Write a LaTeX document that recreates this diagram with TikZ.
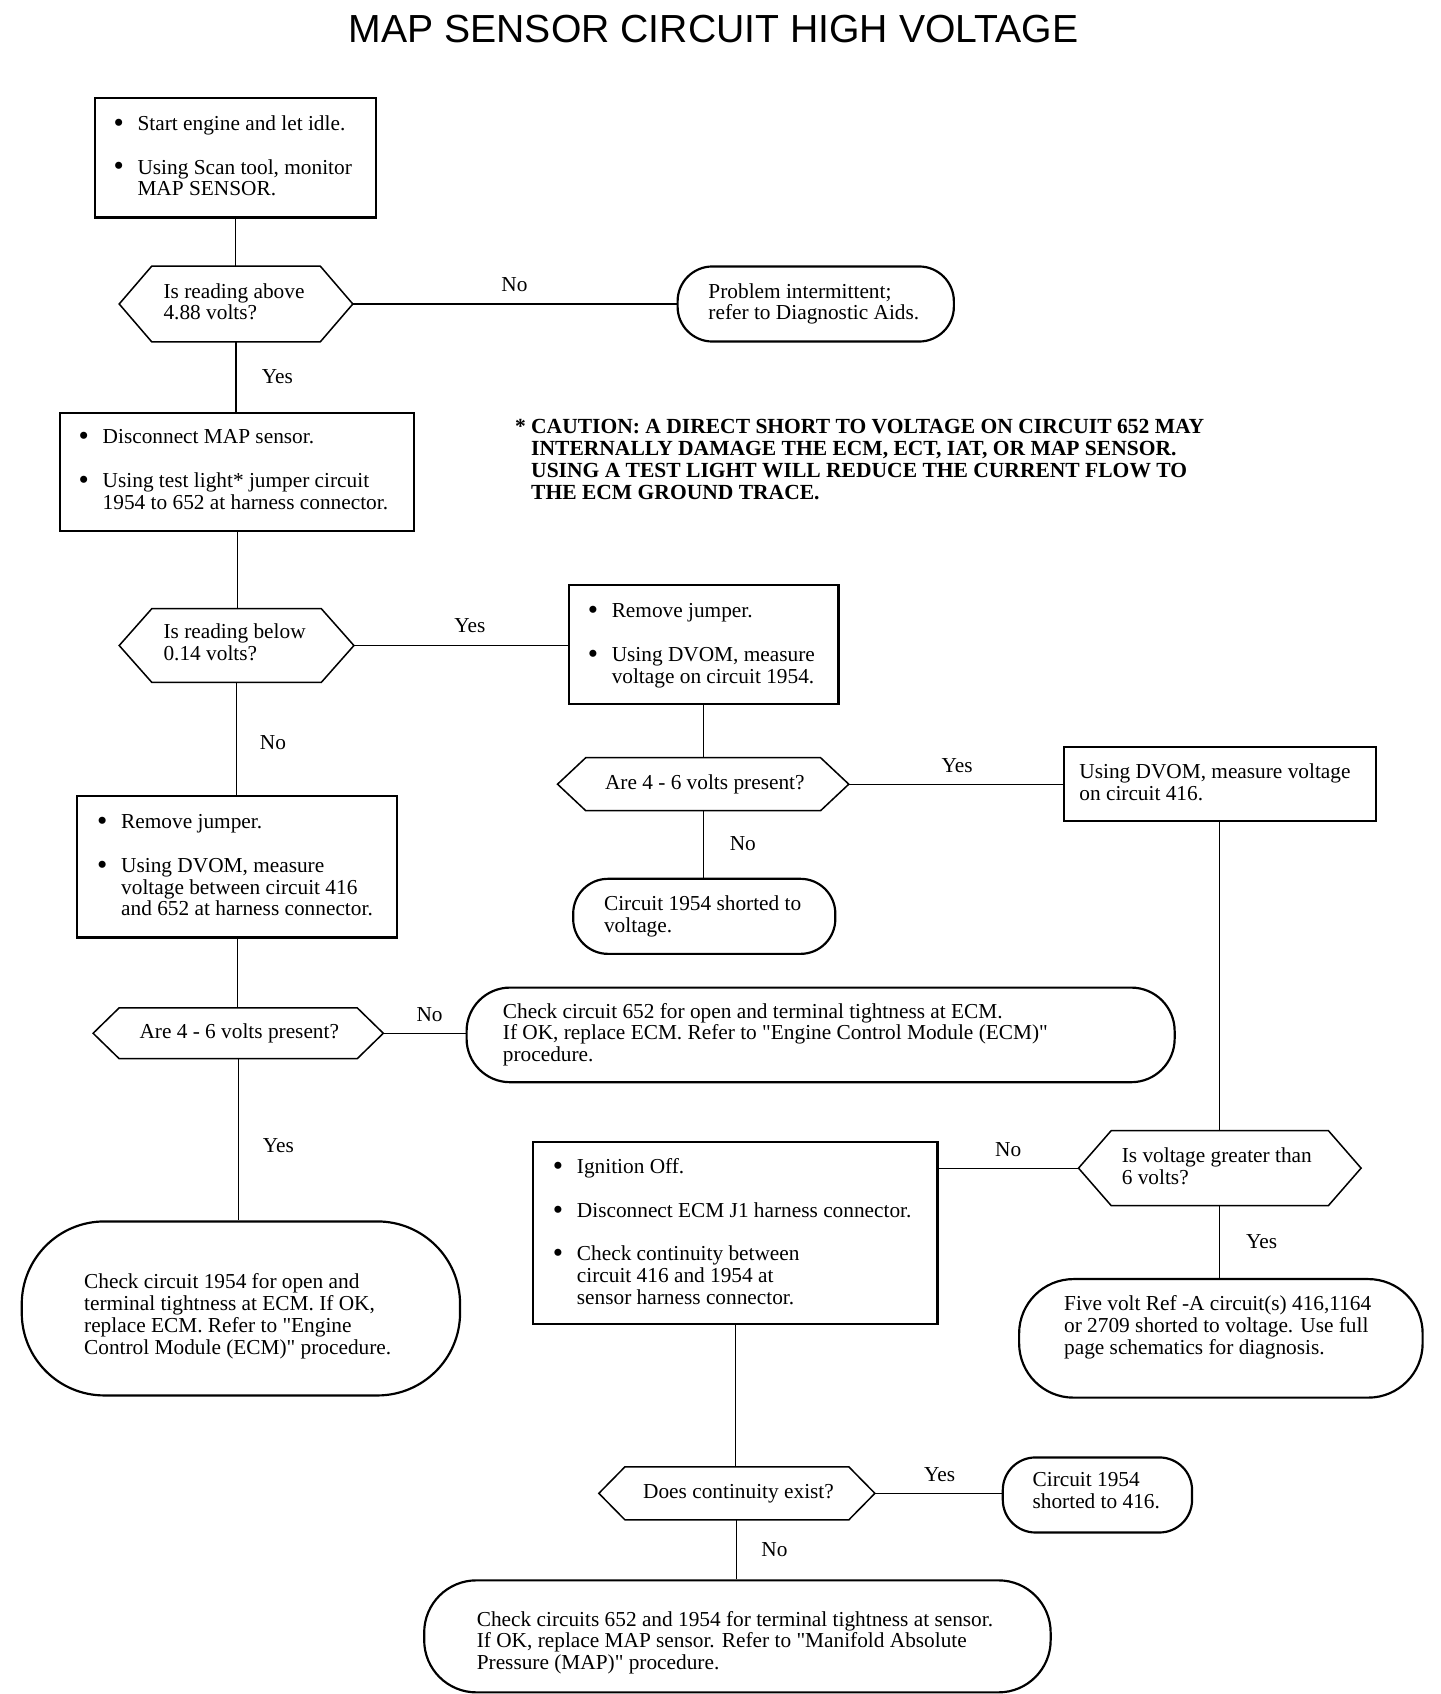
\documentclass[tikz,border=0pt]{standalone}
\usepackage{fontspec}
\setmainfont{Liberation Serif}[Ligatures=TeXOff]
\newfontfamily\titlefont{Liberation Sans}
\usetikzlibrary{fit}
\tikzset{
  box/.style={draw, line width=1pt, inner sep=0pt},
  term/.style={draw, line width=1pt, inner sep=0pt},
  hexa/.style={inner sep=0pt},
  conn/.style={line width=0.55pt},
  txt/.style={inner sep=0pt, anchor=base west, font=\fontsize{9.8}{10}\selectfont},
  ctxt/.style={inner sep=0pt, anchor=base, font=\fontsize{9.8}{10}\selectfont},
  lbl/.style={inner sep=0pt, font=\fontsize{9.8}{10}\selectfont},
}
\newcommand\hexdraw[2]{\draw[line width=0.7pt] (#1.west) -- ([xshift=#2]#1.north west) -- ([xshift=-#2]#1.north east) -- (#1.east) -- ([xshift=-#2]#1.south east) -- ([xshift=#2]#1.south west) -- cycle;}
\newcommand\tl[1]{\begin{tabular}[t]{@{}l@{}}#1\end{tabular}}
\newcommand\bll[1]{\begin{tabular}[t]{@{}l@{\hspace{6.3pt}}l@{}}#1\end{tabular}}
\newcommand\bu{\raisebox{-0.9pt}{\fontsize{13.5}{10}\selectfont\textbullet}}
\begin{document}
\begin{tikzpicture}[x=0.5pt,y=-0.5pt]
\useasboundingbox (0,0) rectangle (1324,1557.5);

\node[inner sep=0pt, font=\titlefont\fontsize{18}{18}\selectfont] (title) at (656,27) {MAP SENSOR CIRCUIT HIGH VOLTAGE};

% shapes
\node[box, fit={(87,90)(346,200)}] (b1) {};
\node[hexa, fit={(110,245)(324,314)}] (d1) {}; \hexdraw{d1}{15pt}
\node[term, rounded corners=16pt, fit={(623,245)(877,314)}] (t1) {};
\node[box, fit={(55,380)(381,488)}] (b2) {};
\node[hexa, fit={(110,560)(325,627)}] (d2) {}; \hexdraw{d2}{15pt}
\node[box, fit={(523,538)(771,647)}] (b3) {};
\node[hexa, fit={(513,697)(780,745)}] (d3) {}; \hexdraw{d3}{13pt}
\node[box, fit={(978,687)(1265,755)}] (b4) {};
\node[term, rounded corners=16pt, fit={(527,808)(768,877)}] (t2) {};
\node[box, fit={(71,732)(365,862)}] (b5) {};
\node[hexa, fit={(86,927)(352,973)}] (d4) {}; \hexdraw{d4}{12pt}
\node[term, rounded corners=20pt, fit={(429,908)(1080,995)}] (t3) {};
\node[term, rounded corners=38pt, fit={(20,1123)(423,1283)}] (t4) {};
\node[hexa, fit={(992,1040)(1251,1108)}] (d5) {}; \hexdraw{d5}{15pt}
\node[box, fit={(490,1050)(862,1217)}] (b6) {};
\node[term, rounded corners=25pt, fit={(937,1176)(1308,1285)}] (t5) {};
\node[hexa, fit={(551,1349)(804,1397)}] (d6) {}; \hexdraw{d6}{12pt}
\node[term, rounded corners=15pt, fit={(922,1340)(1096,1409)}] (t6) {};
\node[term, rounded corners=24pt, fit={(390,1453)(966,1556)}] (t7) {};

% connectors
\draw[conn] (b1.south) -- (b1.south |- d1.north);
\draw[conn] (d1.east) -- (d1.east -| t1.west);
\draw[conn] (d1.south) -- (d1.south |- b2.north);
\draw[conn] (b2.south) -- (b2.south |- d2.north);
\draw[conn] (d2.east) -- (d2.east -| b3.west);
\draw[conn] (b3.south) -- (b3.south |- d3.north);
\draw[conn] (d3.east) -- (d3.east -| b4.west);
\draw[conn] (d3.south) -- (d3.south |- t2.north);
\draw[conn] (d2.south) -- (d2.south |- b5.north);
\draw[conn] (b5.south) -- (b5.south |- d4.north);
\draw[conn] (d4.east) -- (d4.east -| t3.west);
\draw[conn] (d4.south) -- (d4.south |- t4.north);
\draw[conn] (b4.south) -- (b4.south |- d5.north);
\draw[conn] (d5.west) -- (d5.west -| b6.east);
\draw[conn] (d5.south) -- (d5.south |- t5.north);
\draw[conn] (b6.south) -- (b6.south |- d6.north);
\draw[conn] (d6.east) -- (d6.east -| t6.west);
\draw[conn] (d6.south) -- (d6.south |- t7.north);

% labels
\node[lbl] (l1) at (473,262) {No};
\node[lbl] (l2) at (255,346) {Yes};
\node[lbl] (l3) at (432,575) {Yes};
\node[lbl] (l4) at (251,683) {No};
\node[lbl] (l5) at (880,704) {Yes};
\node[lbl] (l6) at (683,776) {No};
\node[lbl] (l7) at (395,933) {No};
\node[lbl] (l8) at (256,1053) {Yes};
\node[lbl] (l9) at (927,1057) {No};
\node[lbl] (l10) at (1160,1142) {Yes};
\node[lbl] (l11) at (864,1356) {Yes};
\node[lbl] (l12) at (712,1425) {No};

% texts
\node[txt] (x1) at (104,120) {\bll{\bu & Start engine and let idle.\\[10pt] \bu & Using Scan tool, monitor\\ & MAP SENSOR.}};
\node[txt] (x2) at (150,274) {\tl{Is reading above\\4.88 volts?}};
\node[txt] (x3) at (651,274) {\tl{Problem intermittent;\\refer to Diagnostic Aids.}};
\node[txt] (x4) at (72,408) {\bll{\bu & Disconnect MAP sensor.\\[10pt] \bu & Using test light* jumper circuit\\ & 1954 to 652 at harness connector.}};
\node[txt, font=\fontsize{9.9}{10}\selectfont\bfseries] (caution) at (488,399) {\tl{\llap{*\ }CAUTION: A DIRECT SHORT TO VOLTAGE ON CIRCUIT 652 MAY\\INTERNALLY DAMAGE THE ECM, ECT, IAT, OR MAP SENSOR.\\USING A TEST LIGHT WILL REDUCE THE CURRENT FLOW TO\\THE ECM GROUND TRACE.}};
\node[txt] (x5) at (150,587) {\tl{Is reading below\\0.14 volts?}};
\node[txt] (x6) at (540,568) {\bll{\bu & Remove jumper.\\[10pt] \bu & Using DVOM, measure\\ & voltage on circuit 1954.}};
\node[ctxt] (x7) at (648,726) {Are 4 - 6 volts present?};
\node[txt] (x8) at (992,716) {\tl{Using DVOM, measure voltage\\on circuit 416.}};
\node[txt] (x9) at (555,837) {\tl{Circuit 1954 shorted to\\voltage.}};
\node[txt] (x10) at (89,762) {\bll{\bu & Remove jumper.\\[10pt] \bu & Using DVOM, measure\\ & voltage between circuit 416\\ & and 652 at harness connector.}};
\node[ctxt] (x11) at (220,955) {Are 4 - 6 volts present?};
\node[txt] (x12) at (462,936) {\tl{Check circuit 652 for open and terminal tightness at ECM.\\If OK, replace ECM. Refer to "Engine Control Module (ECM)"\\procedure.}};
\node[txt] (x13) at (77,1185) {\tl{Check circuit 1954 for open and\\terminal tightness at ECM. If OK,\\replace ECM. Refer to "Engine\\Control Module (ECM)" procedure.}};
\node[txt] (x14) at (1031,1069) {\tl{Is voltage greater than\\6 volts?}};
\node[txt] (x15) at (508,1079) {\bll{\bu & Ignition Off.\\[10pt] \bu & Disconnect ECM J1 harness connector.\\[10pt] \bu & Check continuity between\\ & circuit 416 and 1954 at\\ & sensor harness connector.}};
\node[txt] (x16) at (978,1205) {\tl{Five volt Ref -A circuit(s) 416,1164\\or 2709 shorted to voltage. Use full\\page schematics for diagnosis.}};
\node[ctxt] (x17) at (679,1378) {Does continuity exist?};
\node[txt] (x18) at (949,1367) {\tl{Circuit 1954\\shorted to 416.}};
\node[txt] (x19) at (438,1495) {\tl{Check circuits 652 and 1954 for terminal tightness at sensor.\\If OK, replace MAP sensor. Refer to "Manifold Absolute\\Pressure (MAP)" procedure.}};
\end{tikzpicture}
\end{document}
